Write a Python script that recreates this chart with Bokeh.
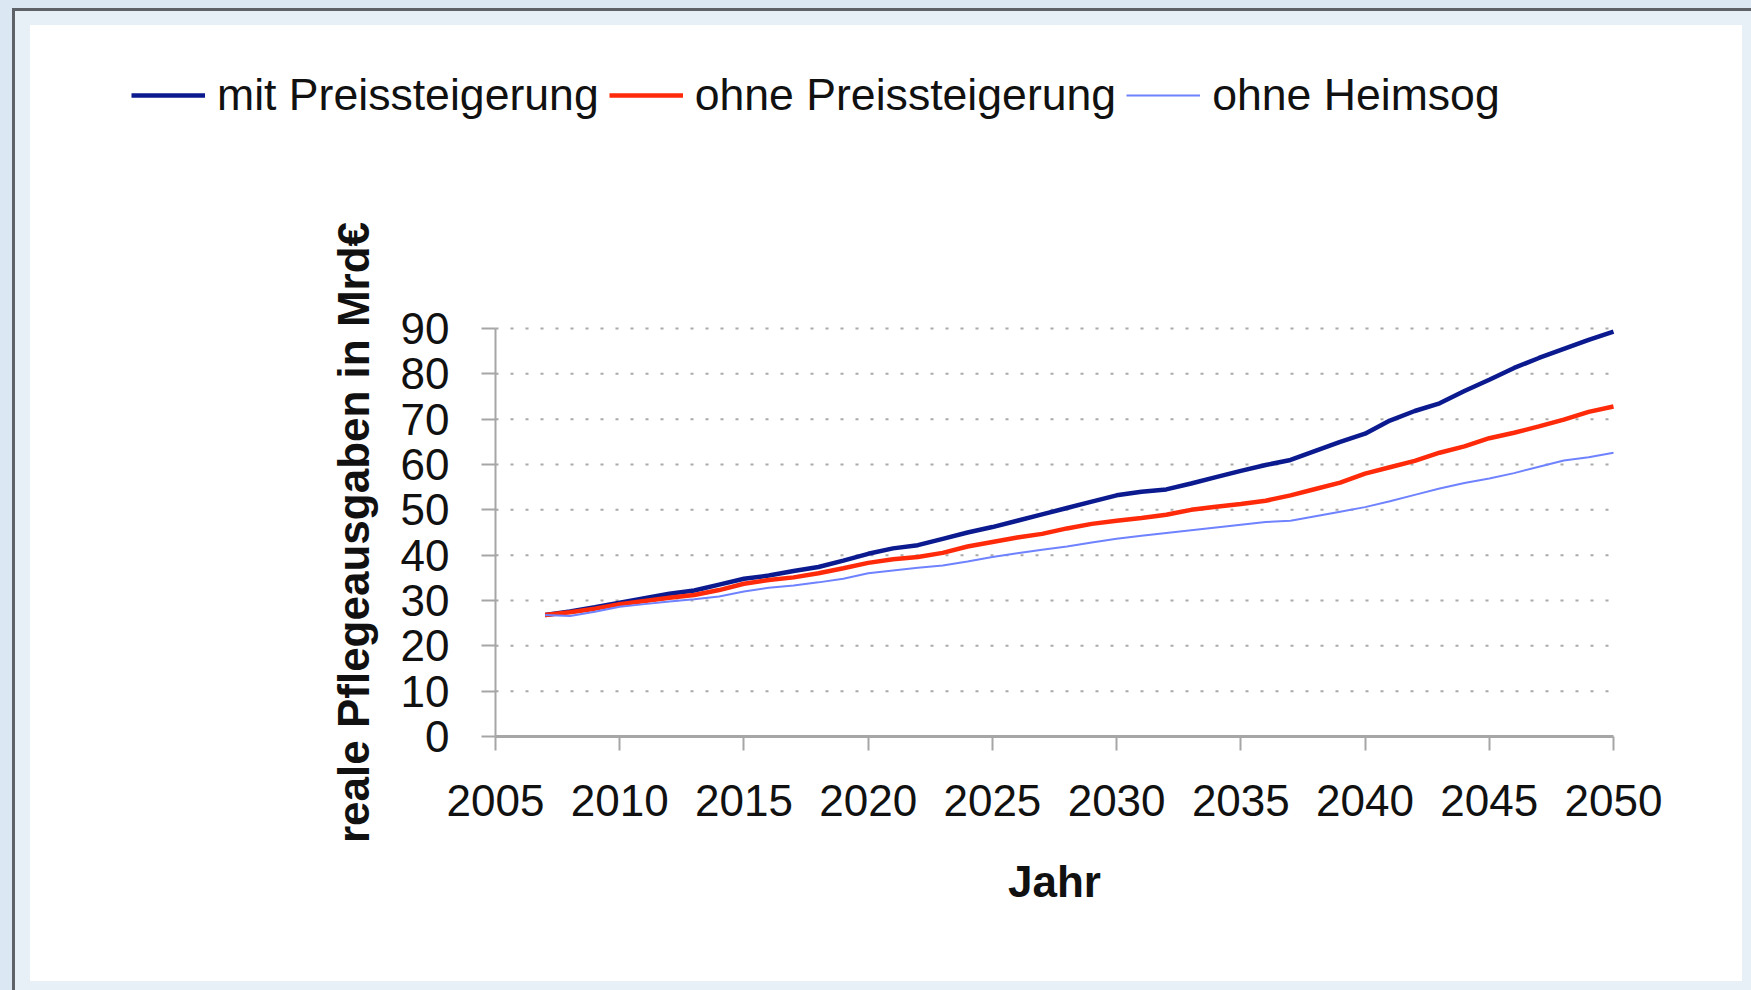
from bokeh.plotting import figure
from bokeh.models import (FixedTicker, Legend, LegendItem, Spacer, Range1d)
from bokeh.layouts import row, column
from bokeh.embed import file_html
from bokeh.resources import INLINE

# ---- data ----
years = list(range(2007, 2051))

mit_preissteigerung = [
    26.8, 27.6, 28.5, 29.5, 30.5, 31.5, 32.2, 33.5, 34.8, 35.5,
    36.5, 37.4, 38.8, 40.3, 41.5, 42.2, 43.6, 45.0, 46.2, 47.6,
    49.0, 50.4, 51.8, 53.2, 54.0, 54.5, 55.8, 57.2, 58.6, 59.9,
    61.0, 63.0, 65.0, 66.8, 69.7, 71.8, 73.5, 76.2, 78.7, 81.3,
    83.5, 85.5, 87.5, 89.3,
]
ohne_preissteigerung = [
    26.8, 27.4, 28.2, 29.2, 29.9, 30.6, 31.2, 32.3, 33.7, 34.5,
    35.1, 36.0, 37.1, 38.3, 39.1, 39.6, 40.5, 41.9, 42.9, 43.9,
    44.7, 45.9, 46.9, 47.6, 48.2, 48.9, 50.0, 50.7, 51.3, 52.0,
    53.2, 54.6, 56.0, 58.0, 59.4, 60.8, 62.6, 64.0, 65.8, 67.0,
    68.4, 69.9, 71.6, 72.8,
]
ohne_heimsog = [
    26.8, 26.6, 27.5, 28.6, 29.2, 29.8, 30.3, 30.9, 32.0, 32.8,
    33.3, 34.0, 34.8, 36.0, 36.6, 37.2, 37.7, 38.6, 39.6, 40.4,
    41.2, 41.9, 42.8, 43.6, 44.3, 44.9, 45.5, 46.1, 46.7, 47.3,
    47.6, 48.6, 49.6, 50.6, 51.9, 53.3, 54.7, 55.9, 56.9, 58.1,
    59.5, 60.9, 61.6, 62.6,
]
series_names = ["mit Preissteigerung", "ohne Preissteigerung", "ohne Heimsog"]
x_ticks = [2005, 2010, 2015, 2020, 2025, 2030, 2035, 2040, 2045, 2050]
y_ticks = [0, 10, 20, 30, 40, 50, 60, 70, 80, 90]
x_label = "Jahr"
y_label = "reale Pflegeausgaben in Mrd€"

# ---- styles / layout constants ----
FONT = "Liberation Sans"
BG = "#dbe7f2"
BG2 = "#e7eff7"
DARK = "#5e6268"
colors = ["#0b1a8f", "#ff2a0a", "#6f82ff"]
widths = [4.5, 4.5, 2]

W, H = 1712, 956                      # white panel
FL, FR, FT, FB = 465, 1583, 303, 711  # plot area inside the panel (pixels)

x0, x1 = x_ticks[0], x_ticks[-1]
y0, y1 = y_ticks[0], y_ticks[-1]
pxx = (FR - FL) / (x1 - x0)
pxy = (FB - FT) / (y1 - y0)
xr = Range1d(x0 - FL / pxx, x1 + (W - FR) / pxx)
yr = Range1d(y0 - (H - FB) / pxy, y1 + FT / pxy)

p = figure(width=W, height=H, x_range=xr, y_range=yr,
           output_backend="svg", toolbar_location=None,
           min_border=0, min_border_left=0, min_border_right=0,
           min_border_top=0, min_border_bottom=0,
           background_fill_color="white", border_fill_color="white")
p.outline_line_color = None
p.xgrid.visible = False
p.ygrid.visible = False

# dotted horizontal grid lines between the axis limits
p.segment(x0=[x0] * (len(y_ticks) - 1), x1=[x1] * (len(y_ticks) - 1),
          y0=y_ticks[1:], y1=y_ticks[1:],
          line_color="#a9a9a9", line_width=2, line_dash="3 12")

renderers = []
for vals, c, w in zip([mit_preissteigerung, ohne_preissteigerung, ohne_heimsog], colors, widths):
    r = p.line(years, vals, line_color=c, line_width=w)
    renderers.append(r)

# axes placed at the data origin
for ax in (p.xaxis[0], p.yaxis[0]):
    ax.major_tick_out = 14
    ax.major_tick_in = 0
    ax.minor_tick_line_color = None
    ax.major_tick_line_color = "#a6a6a6"
    ax.major_tick_line_width = 2
    ax.axis_line_color = "#a6a6a6"
    ax.major_label_text_font = FONT
    ax.major_label_text_font_size = "44px"
    ax.major_label_text_color = "#111111"
    ax.axis_label_text_font = FONT
    ax.axis_label_text_font_size = "44px"
    ax.axis_label_text_font_style = "bold"
    ax.axis_label_text_color = "#111111"

p.xaxis[0].ticker = FixedTicker(ticks=x_ticks)
p.yaxis[0].ticker = FixedTicker(ticks=y_ticks)
p.xaxis[0].bounds = (x0, x1)
p.yaxis[0].bounds = (y0, y1)
p.xaxis[0].fixed_location = y0
p.yaxis[0].fixed_location = x0
p.xaxis[0].axis_line_width = 3
p.yaxis[0].axis_line_width = 2
p.xaxis[0].major_label_standoff = 34
p.yaxis[0].major_label_standoff = 32
p.xaxis[0].axis_label = x_label
p.yaxis[0].axis_label = y_label
p.xaxis[0].axis_label_standoff = 38
p.yaxis[0].axis_label_standoff = 20

legend = Legend(
    items=[LegendItem(label=n, renderers=[r]) for n, r in zip(series_names, renderers)],
    location=(101, H - 95),
    orientation="horizontal",
    glyph_width=74, glyph_height=20,
    label_standoff=12, spacing=10, padding=0, margin=0,
    border_line_color=None, background_fill_alpha=0,
    label_text_font=FONT, label_text_font_size="44.6px",
    label_text_color="#111111",
)
p.add_layout(legend, "center")

# ---- frame around the white panel (page size 1751 x 990) ----
OW, OH = 1751, 990
top0 = Spacer(width=OW, height=8, styles={"background-color": BG})
top1 = row(
    Spacer(width=12, height=3, styles={"background-color": BG}),
    Spacer(width=OW - 12, height=3, styles={"background-color": DARK}),
    spacing=0,
)
MH = OH - 11
main = row(
    Spacer(width=12, height=MH, styles={"background-color": BG}),
    Spacer(width=3, height=MH, styles={"background-color": DARK}),
    Spacer(width=15, height=MH, styles={"background-color": BG2}),
    column(
        Spacer(width=W, height=14, styles={"background-color": BG2}),
        p,
        Spacer(width=W, height=MH - 14 - H, styles={"background-color": BG2}),
        spacing=0,
    ),
    Spacer(width=OW - 30 - W, height=MH, styles={"background-color": BG2}),
    spacing=0,
)
layout = column(top0, top1, main, spacing=0)

open("out.html", "w").write(file_html(layout, INLINE))
